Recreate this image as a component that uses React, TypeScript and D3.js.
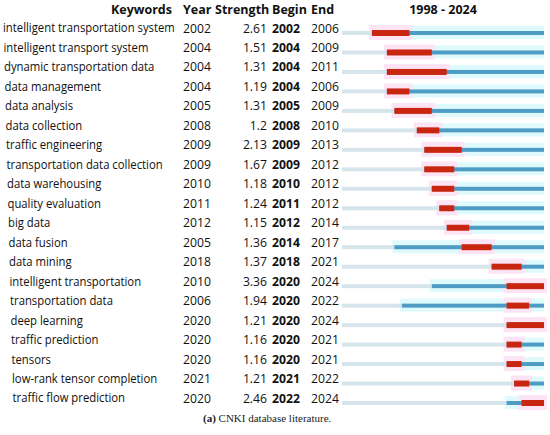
import React, { useEffect, useRef } from 'react';
import * as d3 from 'd3';

const keywords = [
  'intelligent transportation system',
  'intelligent transport system',
  'dynamic transportation data',
  'data management',
  'data analysis',
  'data collection',
  'traffic engineering',
  'transportation data collection',
  'data warehousing',
  'quality evaluation',
  'big data',
  'data fusion',
  'data mining',
  'intelligent transportation',
  'transportation data',
  'deep learning',
  'traffic prediction',
  'tensors',
  'low-rank tensor completion',
  'traffic flow prediction',
];
const years = [2002, 2004, 2004, 2004, 2005, 2008, 2009, 2009, 2010, 2011, 2012, 2005, 2018, 2010, 2006, 2020, 2020, 2020, 2021, 2020];
const strengths = [2.61, 1.51, 1.31, 1.19, 1.31, 1.2, 2.13, 1.67, 1.18, 1.24, 1.15, 1.36, 1.37, 3.36, 1.94, 1.21, 1.16, 1.16, 1.21, 2.46];
const begins = [2002, 2004, 2004, 2004, 2005, 2008, 2009, 2009, 2010, 2011, 2012, 2014, 2018, 2020, 2020, 2020, 2020, 2020, 2021, 2022];
const ends = [2006, 2009, 2011, 2006, 2009, 2010, 2013, 2012, 2012, 2012, 2014, 2017, 2021, 2024, 2022, 2024, 2021, 2021, 2022, 2024];
const startYear = 1998;
const endYear = 2024;

const App: React.FC = () => {
  const ref = useRef<SVGSVGElement>(null);

  useEffect(() => {
    const width = 550;
    const height = 435;
    const font = '"Open Sans", sans-serif';

    const svg = d3.select(ref.current).attr('width', width).attr('height', height);
    svg.selectAll('*').remove();

    const rows = keywords.map((k, i) => ({
      keyword: k,
      year: years[i],
      strength: strengths[i],
      begin: begins[i],
      end: ends[i],
      i,
    }));

    const x = d3.scaleLinear().domain([startYear, endYear + 1]).range([342, 544]);
    const y = d3.scaleLinear().domain([0, rows.length - 1]).range([33, 403]);

    // header
    const head = svg.append('g').attr('font-family', font).attr('font-weight', 'bold').attr('font-size', 12.5).attr('fill', '#111');
    head.append('text').attr('x', 172).attr('y', 14).attr('text-anchor', 'end').text('Keywords');
    head.append('text').attr('x', 183).attr('y', 14).text('Year');
    head.append('text').attr('x', 215).attr('y', 14).text('Strength');
    head.append('text').attr('x', 272).attr('y', 14).text('Begin');
    head.append('text').attr('x', 311).attr('y', 14).text('End');
    head
      .append('text')
      .attr('x', (x(startYear) + x(endYear + 1)) / 2)
      .attr('y', 14)
      .attr('text-anchor', 'middle')
      .text(`${startYear} - ${endYear}`);

    // bars
    const bars = svg.append('g');
    const rg = bars.selectAll('g').data(rows).join('g');

    // faint halos
    rg.append('rect')
      .attr('x', (d) => x(d.year) - 2)
      .attr('y', (d) => y(d.i) - 7)
      .attr('width', (d) => x(endYear + 1) - x(d.year) + 2)
      .attr('height', 13)
      .attr('fill', '#defafd');
    rg.append('rect')
      .attr('x', (d) => x(d.begin) - 3)
      .attr('y', (d) => y(d.i) - 8)
      .attr('width', (d) => x(d.end + 1) - x(d.begin) + 6)
      .attr('height', 15)
      .attr('fill', '#fde4f5');

    rg.append('rect')
      .attr('x', x(startYear))
      .attr('y', (d) => y(d.i) - 2)
      .attr('width', (d) => x(d.year) - x(startYear))
      .attr('height', 4)
      .attr('fill', '#d6e5ec');
    rg.append('rect')
      .attr('x', (d) => x(d.year))
      .attr('y', (d) => y(d.i) - 2)
      .attr('width', (d) => x(endYear + 1) - x(d.year))
      .attr('height', 4)
      .attr('fill', '#4e9cc4');
    rg.append('rect')
      .attr('x', (d) => x(d.begin))
      .attr('y', (d) => y(d.i) - 3)
      .attr('width', (d) => x(d.end + 1) - x(d.begin))
      .attr('height', 6)
      .attr('fill', '#c8260f');

    // text columns
    const txt = svg.append('g').attr('font-family', font).attr('font-size', 12.2).attr('fill', '#111');
    const kw = txt
      .append('g')
      .attr('font-size', 13)
      .selectAll('text')
      .data(rows)
      .join('text')
      .attr('x', 0)
      .attr('y', (d) => y(d.i) - 0.5)
      .text((d) => d.keyword);

    // squeeze keyword text to the narrow face of the original
    let maxW = 0;
    kw.each(function () {
      maxW = Math.max(maxW, (this as SVGTextElement).getComputedTextLength());
    });
    const k = maxW > 0 ? 172 / maxW : 1;
    kw.attr('transform', (d) => `translate(${3 + d.i * 0.5},0) scale(${k},1)`);

    txt.append('g').selectAll('text').data(rows).join('text')
      .attr('x', 183).attr('y', (d) => y(d.i) - 0.5).text((d) => String(d.year));
    txt.append('g').selectAll('text').data(rows).join('text')
      .attr('x', 267).attr('y', (d) => y(d.i) - 0.5).attr('text-anchor', 'end').text((d) => String(d.strength));
    txt.append('g').attr('font-weight', 'bold').selectAll('text').data(rows).join('text')
      .attr('x', 272).attr('y', (d) => y(d.i) - 0.5).text((d) => String(d.begin));
    txt.append('g').selectAll('text').data(rows).join('text')
      .attr('x', 311).attr('y', (d) => y(d.i) - 0.5).text((d) => String(d.end));

    // caption
    const cap = svg
      .append('text')
      .attr('x', 203)
      .attr('y', 422)
      .attr('font-family', '"Liberation Serif", serif')
      .attr('font-size', 11)
      .attr('fill', '#222');
    cap.append('tspan').attr('font-weight', 'bold').text('(a)');
    cap.append('tspan').text(' CNKI database literature.');

    return () => {
      svg.selectAll('*').remove();
    };
  }, []);

  return <svg ref={ref} style={{ position: 'absolute', left: 0, top: 0, display: 'block' }}></svg>;
};

export default App;
